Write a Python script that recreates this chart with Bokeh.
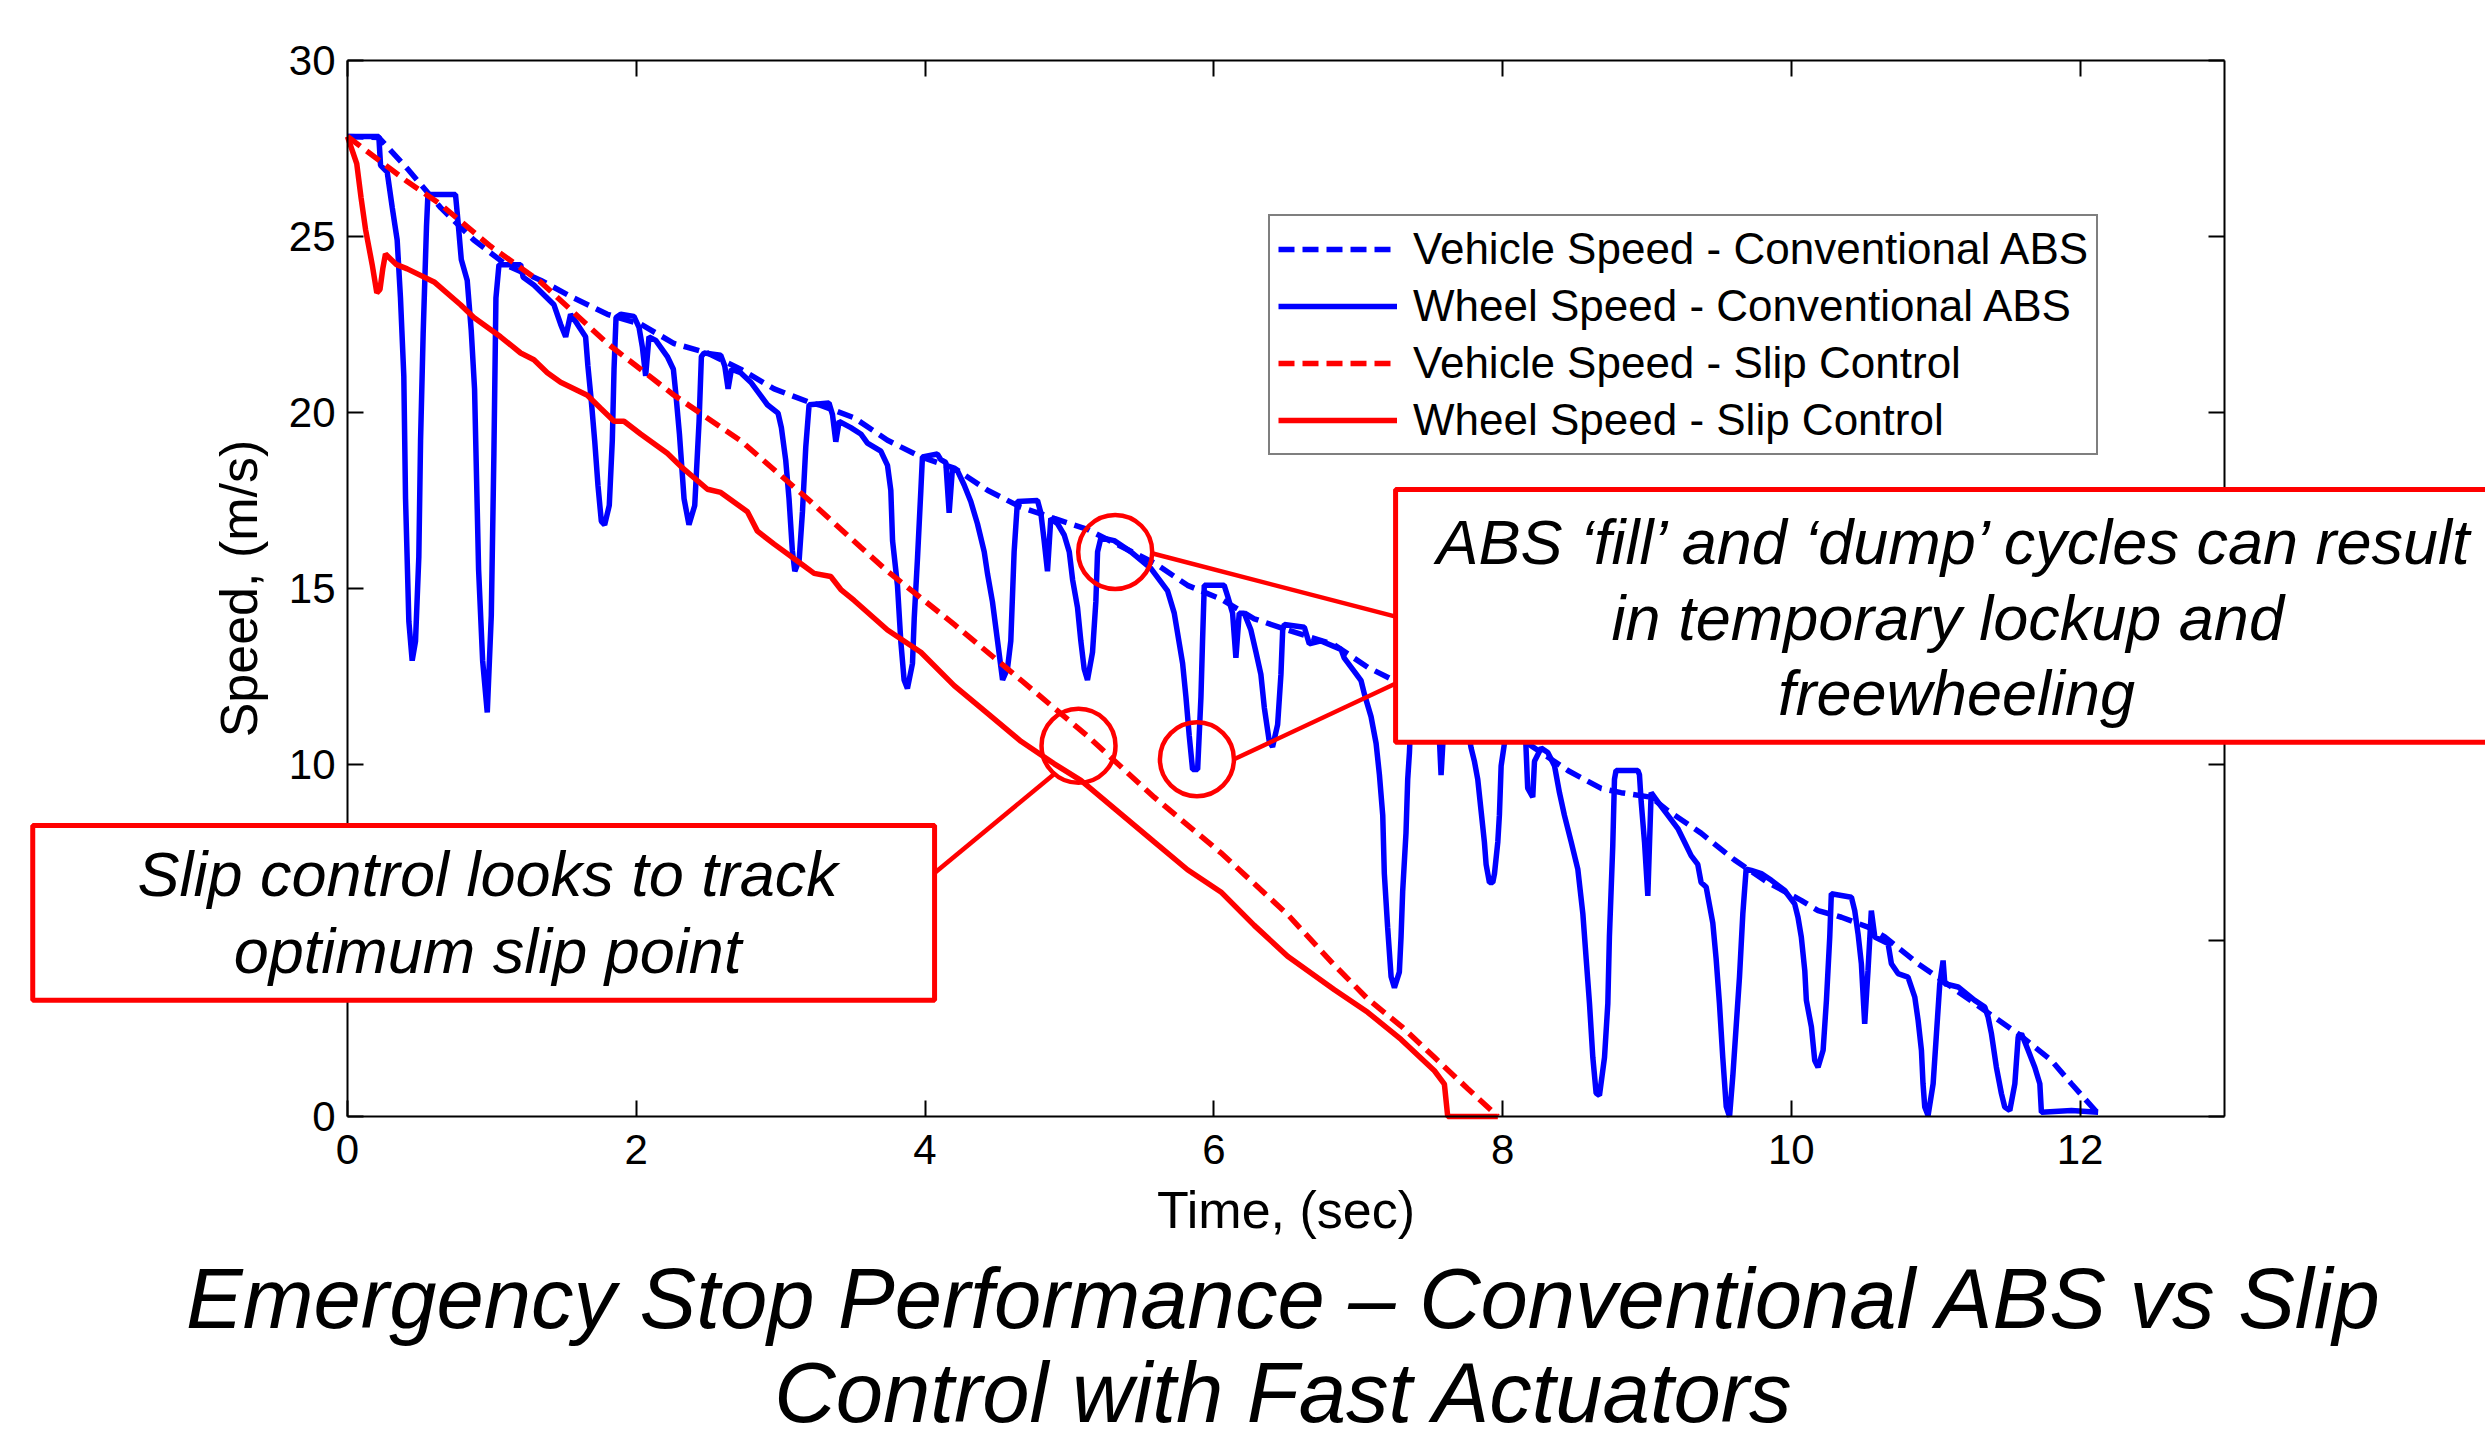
from bokeh.plotting import figure
from bokeh.models import (Range1d, FixedTicker, LinearAxis, BoxAnnotation, Label,
                          Legend, LegendItem)
from bokeh.embed import file_html
from bokeh.resources import INLINE

FONT = "Liberation Sans"

# ---------------- data (time s, speed m/s) ----------------
x_ticks = [0, 2, 4, 6, 8, 10, 12]
y_ticks = [0, 5, 10, 15, 20, 25, 30]
x_limits = (0, 13)
y_limits = (0, 30)

abs_vehicle = [(0.0, 27.84), (0.217, 27.81), (0.414, 26.93), (0.645, 25.82), (0.875, 24.9),
               (1.107, 24.17), (1.337, 23.76), (1.568, 23.25), (1.8, 22.79), (2.03, 22.51),
               (2.262, 21.96), (2.493, 21.69), (2.723, 21.23), (2.955, 20.67), (3.186, 20.31),
               (3.278, 20.2), (3.509, 19.85), (3.74, 19.21), (3.971, 18.74), (4.202, 18.42),
               (4.433, 17.79), (4.664, 17.31), (4.895, 16.99), (5.125, 16.68), (5.356, 16.2),
               (5.587, 15.73), (5.818, 15.09), (6.049, 14.7), (6.28, 14.14), (6.511, 13.82),
               (6.835, 13.4), (7.066, 12.76), (7.251, 12.38), (7.7, 11.5), (8.174, 10.6),
               (8.452, 9.83), (8.683, 9.32), (8.821, 9.2), (9.029, 9.07), (9.144, 8.69),
               (9.375, 8.05), (9.606, 7.29), (9.837, 6.65), (10.068, 6.14), (10.185, 5.85),
               (10.347, 5.66), (10.531, 5.38), (10.647, 5.1), (10.878, 4.34), (11.109, 3.68),
               (11.34, 3.01), (11.571, 2.35), (11.802, 1.59), (11.94, 0.93), (12.125, 0.08),
               (12.15, 0.0)]

abs_wheel = [(0.0, 27.84), (0.217, 27.84), (0.229, 27.02), (0.275, 26.83), (0.31, 25.82),
             (0.344, 24.9), (0.367, 23.25), (0.39, 21.04), (0.402, 17.55), (0.425, 14.06),
             (0.448, 12.95), (0.471, 13.5), (0.494, 15.9), (0.506, 19.2), (0.524, 22.24),
             (0.547, 25.27), (0.557, 26.19), (0.748, 26.19), (0.765, 25.45), (0.788, 24.35),
             (0.829, 23.76), (0.857, 22.33), (0.88, 20.67), (0.894, 18.1), (0.908, 15.53),
             (0.936, 12.95), (0.968, 11.48), (0.996, 14.24), (1.014, 18.84), (1.028, 23.25),
             (1.049, 24.2), (1.199, 24.2), (1.217, 23.84), (1.291, 23.62), (1.43, 23.06),
             (1.476, 22.51), (1.511, 22.15), (1.545, 22.79), (1.592, 22.51), (1.649, 22.15),
             (1.665, 21.32), (1.689, 20.31), (1.712, 19.2), (1.735, 17.92), (1.758, 16.91),
             (1.781, 16.81), (1.813, 17.36), (1.834, 19.2), (1.846, 21.23), (1.86, 22.7),
             (1.892, 22.79), (1.984, 22.73), (2.019, 22.42), (2.042, 21.87), (2.065, 21.04),
             (2.088, 22.15), (2.135, 22.05), (2.215, 21.59), (2.257, 21.23), (2.275, 20.49),
             (2.299, 19.39), (2.331, 17.55), (2.365, 16.81), (2.405, 17.36), (2.435, 19.75),
             (2.451, 21.59), (2.469, 21.69), (2.585, 21.63), (2.613, 21.32), (2.636, 20.67),
             (2.659, 21.23), (2.723, 21.13), (2.793, 20.86), (2.908, 20.22), (2.982, 19.98),
             (3.005, 19.57), (3.035, 18.65), (3.058, 17.55), (3.081, 16.08), (3.098, 15.49),
             (3.128, 15.8), (3.151, 17.18), (3.174, 19.02), (3.197, 20.22), (3.335, 20.27),
             (3.359, 19.94), (3.382, 19.17), (3.405, 19.75), (3.486, 19.57), (3.555, 19.39),
             (3.601, 19.13), (3.694, 18.9), (3.74, 18.5), (3.763, 17.79), (3.775, 16.36),
             (3.809, 15.09), (3.832, 13.51), (3.855, 12.4), (3.878, 12.16), (3.913, 12.87),
             (3.925, 14.14), (3.948, 15.88), (3.971, 17.79), (3.982, 18.74), (4.086, 18.82),
             (4.109, 18.66), (4.144, 18.58), (4.167, 17.15), (4.19, 18.42), (4.225, 18.34),
             (4.271, 17.94), (4.317, 17.47), (4.363, 16.84), (4.41, 16.04), (4.433, 15.41),
             (4.467, 14.62), (4.502, 13.51), (4.537, 12.4), (4.571, 12.72), (4.594, 13.51),
             (4.617, 16.04), (4.64, 17.47), (4.779, 17.5), (4.802, 17.15), (4.825, 16.36),
             (4.848, 15.49), (4.871, 16.99), (4.918, 16.84), (4.964, 16.52), (4.999, 16.04),
             (5.022, 15.25), (5.056, 14.46), (5.079, 13.51), (5.102, 12.72), (5.125, 12.4),
             (5.16, 13.19), (5.183, 14.62), (5.195, 16.04), (5.218, 16.44), (5.31, 16.36),
             (5.426, 16.04), (5.564, 15.57), (5.68, 14.93), (5.726, 14.3), (5.784, 12.87),
             (5.807, 11.92), (5.83, 10.81), (5.853, 9.86), (5.888, 9.86), (5.911, 11.92),
             (5.922, 13.51), (5.934, 15.09), (6.072, 15.09), (6.096, 14.78), (6.13, 14.3),
             (6.153, 13.03), (6.176, 14.3), (6.211, 14.3), (6.257, 13.82), (6.292, 13.19),
             (6.326, 12.56), (6.35, 11.61), (6.384, 10.66), (6.407, 10.5), (6.442, 11.13),
             (6.465, 12.56), (6.477, 13.82), (6.488, 13.98), (6.627, 13.9), (6.661, 13.43),
             (6.742, 13.51), (6.881, 13.27), (6.904, 13.02), (6.974, 12.64), (7.02, 12.38),
             (7.043, 12.0), (7.089, 11.36), (7.124, 10.6), (7.147, 9.71), (7.17, 8.56),
             (7.181, 6.9), (7.204, 5.37), (7.228, 3.97), (7.251, 3.66), (7.285, 4.1),
             (7.297, 5.12), (7.308, 6.39), (7.331, 8.05), (7.343, 9.58), (7.355, 10.34),
             (7.37, 11.9), (7.40, 12.1), (7.50, 11.9), (7.55, 11.6), (7.565, 10.5),
             (7.574, 9.7), (7.585, 10.5), (7.60, 11.4), (7.70, 11.3), (7.76, 11.0),
             (7.782, 10.47), (7.805, 10.09), (7.828, 9.58), (7.851, 8.69), (7.874, 7.8),
             (7.886, 7.16), (7.909, 6.65), (7.932, 6.65), (7.944, 6.9), (7.967, 7.8),
             (7.978, 8.56), (7.99, 9.96), (8.013, 10.6), (8.03, 11.0), (8.10, 10.9),
             (8.16, 10.7), (8.174, 9.33), (8.209, 9.07), (8.221, 10.09), (8.267, 10.47),
             (8.313, 10.34), (8.36, 9.96), (8.394, 9.2), (8.428, 8.56), (8.475, 7.8),
             (8.521, 7.03), (8.556, 5.76), (8.579, 4.48), (8.602, 3.21), (8.625, 1.68),
             (8.648, 0.66), (8.671, 0.6), (8.706, 1.68), (8.729, 3.21), (8.74, 5.12),
             (8.763, 7.67), (8.775, 9.58), (8.786, 9.83), (8.937, 9.83), (8.948, 9.71),
             (8.96, 8.94), (8.983, 7.8), (9.006, 6.27), (9.017, 7.67), (9.029, 9.2),
             (9.098, 8.81), (9.144, 8.56), (9.214, 8.18), (9.26, 7.8), (9.306, 7.41),
             (9.352, 7.16), (9.375, 6.65), (9.41, 6.52), (9.433, 6.01), (9.456, 5.5),
             (9.479, 4.48), (9.502, 3.21), (9.525, 1.68), (9.549, 0.28), (9.572, 0.0),
             (9.595, 1.17), (9.618, 2.57), (9.641, 3.97), (9.664, 5.76), (9.687, 7.03),
             (9.723, 6.99), (9.792, 6.9), (9.862, 6.71), (9.954, 6.42), (10.023, 6.04),
             (10.046, 5.66), (10.069, 5.1), (10.093, 4.15), (10.104, 3.3), (10.139, 2.54),
             (10.162, 1.59), (10.185, 1.4), (10.22, 1.88), (10.243, 3.3), (10.266, 5.1),
             (10.277, 6.33), (10.416, 6.23), (10.439, 5.85), (10.462, 5.19), (10.485, 4.34),
             (10.508, 2.63), (10.531, 4.15), (10.554, 5.85), (10.578, 5.1), (10.67, 4.91),
             (10.693, 4.34), (10.739, 4.06), (10.808, 3.96), (10.855, 3.39), (10.878, 2.73),
             (10.901, 1.88), (10.912, 0.93), (10.924, 0.27), (10.947, 0.03), (10.982, 0.93),
             (11.005, 2.35), (11.028, 3.77), (11.051, 4.43), (11.063, 3.77), (11.155, 3.68),
             (11.27, 3.3), (11.34, 3.11), (11.363, 2.82), (11.386, 2.35), (11.42, 1.4),
             (11.455, 0.65), (11.478, 0.27), (11.513, 0.17), (11.548, 0.93), (11.571, 2.26),
             (11.594, 2.35), (11.64, 1.88), (11.686, 1.4), (11.721, 0.93), (11.732, 0.12),
             (11.94, 0.17), (12.125, 0.12)]

slip_vehicle = [(0.0, 27.84), (0.414, 26.56), (0.645, 25.91), (0.991, 24.72), (1.337, 23.71),
                (1.8, 21.96), (2.262, 20.49), (2.723, 19.2), (3.186, 17.55), (3.555, 16.17),
                (3.74, 15.49), (4.202, 13.98), (4.664, 12.4), (5.125, 10.81), (5.587, 9.07),
                (6.049, 7.49), (6.511, 5.74), (6.835, 4.3), (7.066, 3.34), (7.297, 2.57),
                (7.528, 1.68), (7.759, 0.79), (7.967, 0.0)]

slip_wheel = [(0.0, 27.84), (0.064, 27.07), (0.094, 26.1), (0.125, 25.2), (0.171, 24.2),
              (0.203, 23.4), (0.225, 23.5), (0.245, 24.1), (0.263, 24.5), (0.34, 24.2),
              (0.414, 24.08), (0.6, 23.71), (0.783, 23.06), (0.875, 22.7), (1.06, 22.15),
              (1.199, 21.69), (1.291, 21.5), (1.384, 21.13), (1.476, 20.86), (1.661, 20.49),
              (1.753, 20.12), (1.846, 19.75), (1.915, 19.75), (2.03, 19.39), (2.215, 18.84),
              (2.308, 18.47), (2.493, 17.82), (2.585, 17.73), (2.77, 17.18), (2.839, 16.63),
              (2.955, 16.26), (3.139, 15.71), (3.232, 15.43), (3.347, 15.34), (3.417, 14.97),
              (3.509, 14.66), (3.74, 13.82), (3.971, 13.19), (4.202, 12.24), (4.433, 11.45),
              (4.664, 10.66), (4.895, 10.02), (5.079, 9.55), (5.125, 9.39), (5.356, 8.6),
              (5.587, 7.8), (5.818, 7.01), (6.049, 6.38), (6.28, 5.43), (6.511, 4.55),
              (6.835, 3.6), (7.066, 2.96), (7.297, 2.19), (7.528, 1.3), (7.597, 0.92),
              (7.62, 0.0), (7.967, 0.0)]

series_labels = ["Vehicle Speed - Conventional ABS", "Wheel Speed - Conventional ABS",
                 "Vehicle Speed - Slip Control", "Wheel Speed - Slip Control"]

# annotation marks (circles and leader lines), in data units
circle_t = [5.317, 5.063, 5.883]
circle_v = [16.04, 10.53, 10.15]
leader_t = [[5.57, 7.26], [6.14, 7.26], [4.895, 4.07]]
leader_v = [[16.0, 14.2], [10.15, 12.3], [9.73, 6.93]]

abs_note = ["ABS \u2018fill\u2019 and \u2018dump\u2019 cycles can result",
            "in temporary  lockup and", "freewheeling"]
slip_note = ["Slip control looks to track", "optimum slip point"]
title_lines = ["Emergency Stop Performance \u2013 Conventional ABS vs Slip",
               "Control with Fast Actuators"]

BLUE = "#0000FF"
RED = "#FF0000"

# The frame spans the whole canvas so that notes and title may sit outside the axes box;
# the axes themselves are Bokeh axes pinned at the data limits.
W, H = 2485, 1439
PX_L, PX_R, PX_T, PX_B = 347, 2224, 60, 1116
sx = (PX_R - PX_L) / (x_limits[1] - x_limits[0])
sy = (PX_B - PX_T) / (y_limits[1] - y_limits[0])
x_rng = Range1d(x_limits[0] - PX_L / sx, x_limits[1] + (W - PX_R) / sx)
y_rng = Range1d(y_limits[0] - (H - PX_B) / sy, y_limits[1] + PX_T / sy)

p = figure(width=W, height=H, output_backend="svg", toolbar_location=None,
           x_range=x_rng, y_range=y_rng, x_axis_location=None, y_axis_location=None,
           min_border=0)
p.background_fill_color = "white"
p.border_fill_color = "white"
p.outline_line_color = None
p.grid.visible = False


def make_axis(ticks, loc, bounds, show_labels):
    ax = LinearAxis(fixed_location=loc, bounds=bounds)
    ax.ticker = FixedTicker(ticks=ticks)
    ax.major_tick_in = 16
    ax.major_tick_out = 0
    ax.minor_tick_line_color = None
    ax.major_tick_line_color = "black"
    ax.major_tick_line_width = 2
    ax.axis_line_color = "black"
    ax.axis_line_width = 2
    if show_labels:
        ax.major_label_text_font = FONT
        ax.major_label_text_font_size = "42px"
        ax.major_label_text_color = "black"
        ax.axis_label_text_font = FONT
        ax.axis_label_text_font_size = "52px"
        ax.axis_label_text_font_style = "normal"
        ax.axis_label_text_color = "black"
    else:
        ax.major_label_text_color = None
    return ax


x_axis = make_axis(x_ticks, y_limits[0], x_limits, True)
x_axis.axis_label = "Time, (sec)"
x_axis.major_label_standoff = 18
x_axis.axis_label_standoff = 14
p.add_layout(x_axis, "below")

y_axis = make_axis(y_ticks, x_limits[0], y_limits, True)
y_axis.axis_label = "Speed, (m/s)"
y_axis.major_label_standoff = 12
y_axis.axis_label_standoff = 18
p.add_layout(y_axis, "left")

p.add_layout(make_axis(x_ticks, y_limits[1], x_limits, False), "above")
p.add_layout(make_axis(y_ticks, x_limits[1], y_limits, False), "right")


def split(pairs):
    return [a for a, _ in pairs], [b for _, b in pairs]


LW = 5.5
DASH = "16 8"
t, v = split(abs_vehicle)
r_abs_v = p.line(t, v, line_color=BLUE, line_width=LW, line_dash=DASH)
t, v = split(abs_wheel)
r_abs_w = p.line(t, v, line_color=BLUE, line_width=LW)
t, v = split(slip_vehicle)
r_slip_v = p.line(t, v, line_color=RED, line_width=LW, line_dash=DASH)
t, v = split(slip_wheel)
r_slip_w = p.line(t, v, line_color=RED, line_width=LW)

# circles and leader lines
p.scatter(circle_t, circle_v, marker="circle", size=74, fill_color=None,
          line_color=RED, line_width=4.5)
p.multi_line(leader_t, leader_v, line_color=RED, line_width=4.5)

# annotation boxes
p.add_layout(BoxAnnotation(left=7.259, right=15.5, top=17.81, bottom=10.63,
                           fill_color="white", fill_alpha=1.0, line_color=RED,
                           line_width=5, line_alpha=1.0))
p.add_layout(BoxAnnotation(left=-2.18, right=4.066, top=8.27, bottom=3.30,
                           fill_color="white", fill_alpha=1.0, line_color=RED,
                           line_width=5, line_alpha=1.0))

for txt, yy in zip(abs_note, [16.31, 14.15, 12.02]):
    p.add_layout(Label(x=11.144, y=yy, text=txt, text_align="center",
                       text_baseline="middle", text_font=FONT, text_font_size="63px",
                       text_font_style="italic", text_color="black"))
for txt, yy in zip(slip_note, [6.90, 4.69]):
    p.add_layout(Label(x=0.97, y=yy, text=txt, text_align="center",
                       text_baseline="middle", text_font=FONT, text_font_size="63px",
                       text_font_style="italic", text_color="black"))
for txt, yy in zip(title_lines, [-5.17, -7.84]):
    p.add_layout(Label(x=6.49, y=yy, text=txt, text_align="center",
                       text_baseline="middle", text_font=FONT, text_font_size="85px",
                       text_font_style="italic", text_color="black"))

legend = Legend(items=[LegendItem(label=series_labels[0], renderers=[r_abs_v]),
                       LegendItem(label=series_labels[1], renderers=[r_abs_w]),
                       LegendItem(label=series_labels[2], renderers=[r_slip_v]),
                       LegendItem(label=series_labels[3], renderers=[r_slip_w])],
                location=(1268, H - 455))
legend.label_text_font = FONT
legend.label_text_font_size = "44px"
legend.label_text_color = "black"
legend.glyph_width = 119
legend.glyph_height = 40
legend.label_height = 40
legend.label_standoff = 16
legend.spacing = 7
legend.padding = 8
legend.margin = 0
legend.border_line_color = "black"
legend.border_line_width = 2
legend.background_fill_color = "white"
legend.background_fill_alpha = 1.0
p.add_layout(legend)

open("out.html", "w").write(file_html(p, INLINE))
